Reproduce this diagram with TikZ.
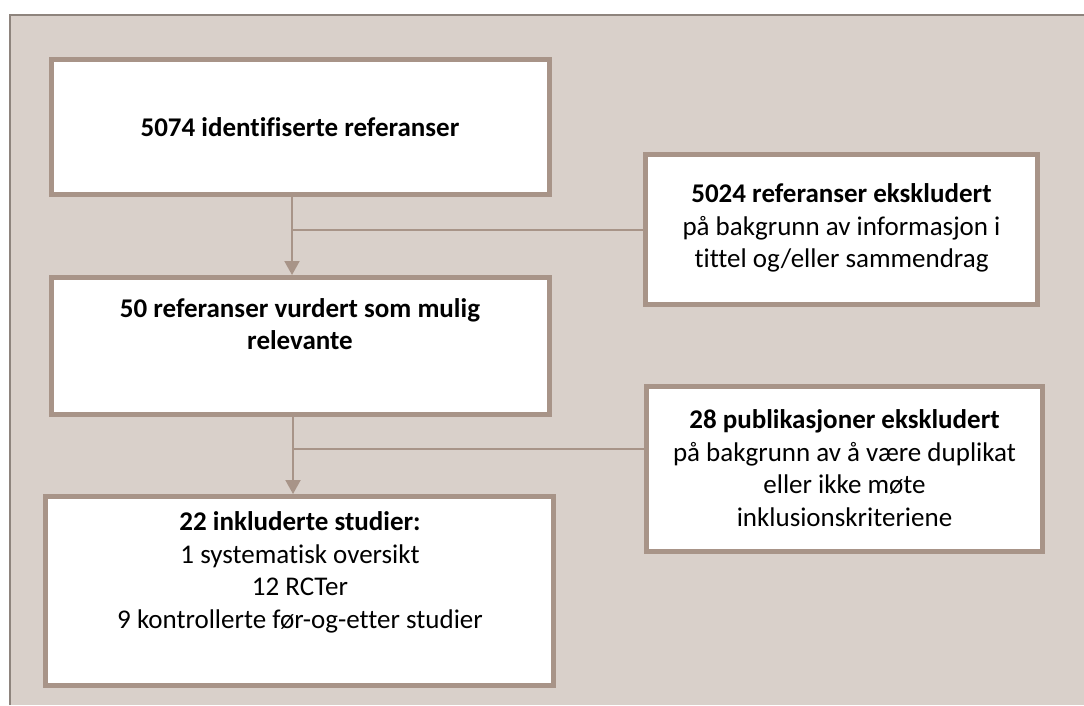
\documentclass[tikz,border=0pt]{standalone}
\usepackage{fontspec}
\setmainfont{Carlito}[RawFeature={-liga;-dlig;-clig}]
\usetikzlibrary{arrows.meta}
\definecolor{bgbeige}{HTML}{D9D0CA}
\definecolor{framegray}{HTML}{8E847D}
\definecolor{boxline}{HTML}{A89488}
\tikzset{
  flowbox/.style={draw=boxline, line width=5pt, fill=white, rectangle, inner sep=0pt},
  boxtext/.style={align=center, inner sep=0pt, font=\fontsize{27}{32.5}\selectfont},
  flowarrow/.style={draw=boxline, line width=2pt, -{Triangle[width=15pt,length=14pt]}},
  sideline/.style={draw=boxline, line width=2pt}
}
\begin{document}
\begin{tikzpicture}[x=1pt,y=-1pt]
\useasboundingbox (0,0) rectangle (1084,705);
\fill[white] (0,0) rectangle (1084,705);
\fill[bgbeige] (10,15) rectangle (1084,705);
\draw[framegray, line width=2pt] (10,705) -- (10,15) -- (1084,15);

\node[flowbox, minimum width=498pt, minimum height=135pt] (b1) at (300.5,127) {};
\node[flowbox, minimum width=392pt, minimum height=150pt] (b2) at (841.5,229.5) {};
\node[flowbox, minimum width=498pt, minimum height=137pt] (b3) at (300.5,346) {};
\node[flowbox, minimum width=508pt, minimum height=189pt] (b4) at (299.5,591) {};
\node[flowbox, minimum width=396pt, minimum height=165pt] (b5) at (844.5,469) {};

\node[boxtext] (t1) at (300,127) {\textbf{5074 identifiserte referanser}};
\node[boxtext] (t2) at (841.5,228) {\textbf{5024 referanser ekskludert}\\på bakgrunn av informasjon i\\tittel og/eller sammendrag};
\node[boxtext] (t3) at (300,324) {\textbf{50 referanser vurdert som mulig}\\\textbf{relevante}};
\node[boxtext] (t4) at (300,572.5) {\textbf{22 inkluderte studier:}\\1 systematisk oversikt\\12 RCTer\\9 kontrollerte før-og-etter studier};
\node[boxtext] (t5) at (844.5,468) {\textbf{28 publikasjoner ekskludert}\\på bakgrunn av å være duplikat\\eller ikke møte\\inklusionskriteriene};

\coordinate (j1) at (292,230);
\coordinate (j2) at (293,449);
\draw[flowarrow] (b1.south -| j1) -- (b3.north -| j1);
\draw[sideline] (j1) -- (j1 -| b2.west);
\draw[flowarrow] (b3.south -| j2) -- (b4.north -| j2);
\draw[sideline] (j2) -- (j2 -| b5.west);
\end{tikzpicture}
\end{document}
